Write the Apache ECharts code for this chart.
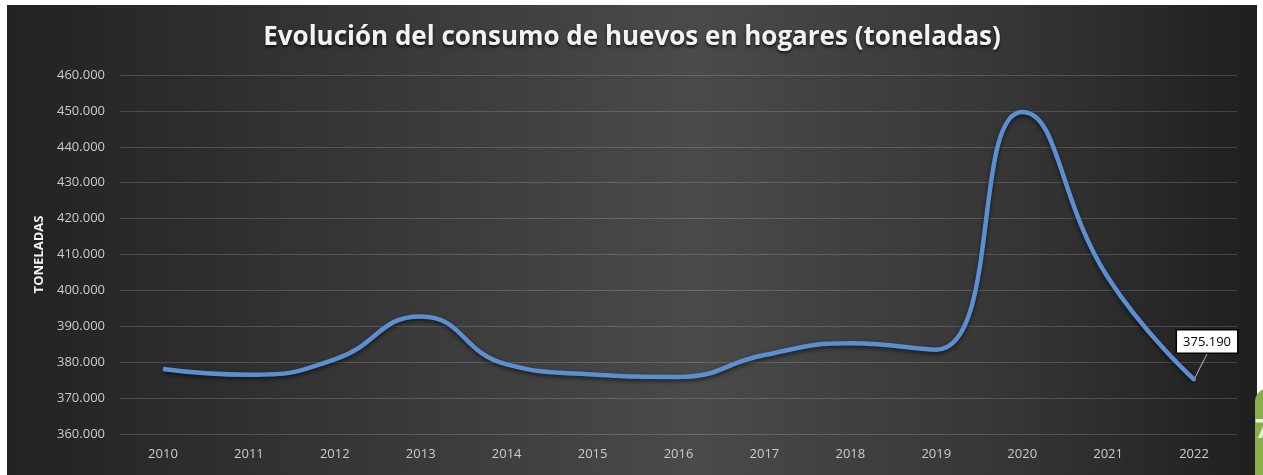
<!DOCTYPE html>
<html>
<head>
<meta charset="utf-8">
<script src="https://cdn.jsdelivr.net/npm/echarts@6/dist/echarts.min.js"></script>
<style>
  html, body { margin: 0; padding: 0; background: #fff; width: 1263px; height: 475px; overflow: hidden; }
  #chart { position: absolute; left: 7px; top: 5px; width: 1250px; height: 470px; }
  .tab { position: absolute; left: 1255px; top: 388px; width: 30px; height: 95px; background: #8aae4b;
         border-radius: 14px 0 0 0; overflow: hidden; }
  .tab span { position: absolute; left: 0px; top: 22px; font: bold 26px "Open Sans", sans-serif; color: #e8f0d8; }
</style>
</head>
<body>
<div id="chart"></div>
<div class="tab"><span>7</span></div>
<script>
// datos (toneladas)
var years = ['2010','2011','2012','2013','2014','2015','2016','2017','2018','2019','2020','2021','2022'];
var consumo = [378100, 376500, 380800, 392700, 379400, 376600, 375900, 382000, 385300, 383500, 449700, 403500, 375190];
var titulo = 'Evolución del consumo de huevos en hogares (toneladas)';

function fmt(v) {
    return Math.round(v).toString().replace(/\B(?=(\d{3})+(?!\d))/g, '.');
}

var chart = echarts.init(document.getElementById('chart'));

var puntos = consumo.map(function (v, i) {
    if (i === consumo.length - 1) {
        return {
            value: v,
            symbol: 'circle',
            symbolSize: 4,
            label: {
                show: true,
                position: 'top',
                formatter: function (p) { return fmt(p.value); },
                backgroundColor: '#fff',
                borderColor: '#000',
                borderWidth: 1.5,
                padding: [5, 6, 4, 6],
                color: '#000',
                fontFamily: 'Open Sans',
                fontSize: 13
            }
        };
    }
    return v;
});

chart.setOption({
    backgroundColor: {
        type: 'linear', x: 0, y: 0, x2: 1, y2: 0,
        colorStops: [
            { offset: 0, color: '#222222' },
            { offset: 0.3, color: '#383838' },
            { offset: 0.55, color: '#4a4a4a' },
            { offset: 0.8, color: '#363636' },
            { offset: 1, color: '#1f1f1f' }
        ]
    },
    title: {
        text: titulo,
        left: 'center',
        top: 15,
        textStyle: {
            color: '#f2f2f2',
            fontFamily: 'Open Sans',
            fontWeight: 'bold',
            fontSize: 26,
            textShadowColor: 'rgba(0,0,0,0.7)',
            textShadowBlur: 3,
            textShadowOffsetY: 2
        }
    },
    grid: { left: 113, right: 20, top: 70, bottom: 41 },
    xAxis: {
        type: 'category',
        data: years,
        boundaryGap: true,
        axisLine: { show: false },
        axisTick: { show: false },
        axisLabel: { color: '#cccccc', fontFamily: 'Open Sans', fontSize: 13, margin: 14 }
    },
    yAxis: {
        type: 'value',
        min: 360000,
        max: 460000,
        interval: 10000,
        name: 'TONELADAS',
        nameLocation: 'middle',
        nameGap: 74,
        nameTextStyle: { color: '#f2f2f2', fontFamily: 'Open Sans', fontWeight: 'bold', fontSize: 13 },
        axisLine: { show: false },
        axisTick: { show: false },
        axisLabel: { color: '#cccccc', fontFamily: 'Open Sans', fontSize: 13, margin: 15, formatter: fmt },
        splitLine: { lineStyle: { color: 'rgba(255,255,255,0.16)', width: 1 } }
    },
    series: [{
        type: 'line',
        data: puntos,
        smooth: 0.5,
        showSymbol: true,
        symbol: 'none',
        lineStyle: {
            color: '#5b8fd2',
            width: 4.5,
            shadowColor: 'rgba(0,0,0,0.6)',
            shadowBlur: 4,
            shadowOffsetY: 2
        },
        itemStyle: { color: '#5b8fd2' },
        labelLayout: { dx: 13, dy: -20 },
        labelLine: { show: true, lineStyle: { color: '#bbbbbb', width: 1 } },
        animation: false
    }]
});
</script>
</body>
</html>
